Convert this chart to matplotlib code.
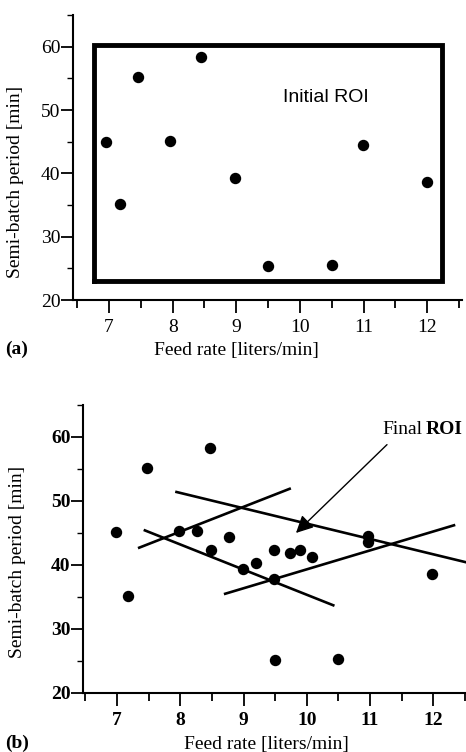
import matplotlib
matplotlib.use("Agg")
import matplotlib.pyplot as plt
from matplotlib.ticker import MultipleLocator

plt.rcParams["font.family"] = ["Liberation Serif", "DejaVu Serif"]

# ---------- (a) initial experiments ----------
feed_a = [6.95, 7.18, 7.46, 7.96, 8.45, 8.98, 9.50, 10.50, 10.99, 12.0]
period_a = [45.0, 35.1, 55.2, 45.1, 58.3, 39.3, 25.4, 25.5, 44.5, 38.7]

# initial region of interest (feed lo, feed hi, period lo, period hi)
roi_feed = [6.76, 12.23]
roi_period = [22.95, 60.3]

# ---------- (b) after further experiments ----------
feed_b = [6.98, 7.18, 7.47, 8.47, 7.98, 8.27, 8.48, 8.77, 8.99, 9.19,
          9.48, 9.48, 9.73, 9.89, 10.09, 9.50, 10.49, 10.97, 10.97, 11.98]
period_b = [45.1, 35.1, 55.2, 58.3, 45.3, 45.3, 42.3, 44.4, 39.3, 40.3,
            42.4, 37.8, 41.9, 42.3, 41.3, 25.2, 25.3, 44.6, 43.6, 38.6]

# constraint lines bounding the final ROI: (x0, y0, x1, y1)
line_x0 = [7.94, 7.35, 7.44, 8.71]
line_y0 = [51.4, 42.7, 45.4, 35.5]
line_x1 = [12.53, 9.73, 10.42, 12.33]
line_y1 = [40.4, 51.9, 33.7, 46.2]

x_ticks = [7, 8, 9, 10, 11, 12]
y_ticks = [20, 30, 40, 50, 60]

fig = plt.figure(figsize=(4.66, 7.52), dpi=100)
ax1 = fig.add_axes([0.1567, 0.601, 0.835, 0.379])
ax2 = fig.add_axes([0.178, 0.0785, 0.822, 0.383])


def style_axes(ax, xlim, bold):
    ax.set_xlim(*xlim)
    ax.set_ylim(20, 65)
    for s in ["top", "right"]:
        ax.spines[s].set_visible(False)
    for s in ["left", "bottom"]:
        ax.spines[s].set_linewidth(1.5)
    ax.set_xticks(x_ticks)
    ax.set_yticks(y_ticks)
    ax.xaxis.set_minor_locator(MultipleLocator(0.5))
    ax.yaxis.set_minor_locator(MultipleLocator(5))
    w = "bold" if bold else "normal"
    ax.tick_params(axis="x", which="major", direction="out", length=9, width=1.3,
                   labelsize=14, pad=5)
    ax.tick_params(axis="x", which="minor", direction="out", length=6, width=1.3)
    ax.tick_params(axis="y", which="major", direction="out", length=9, width=1.3,
                   labelsize=14, pad=0)
    ax.tick_params(axis="y", which="minor", direction="out", length=4, width=1.0)
    for lab in ax.get_xticklabels() + ax.get_yticklabels():
        lab.set_fontweight(w)
    ax.set_xlabel("Feed rate [liters/min]", fontsize=14)
    ax.set_ylabel("Semi-batch period [min]", fontsize=14)


# ---- panel (a) ----
style_axes(ax1, (6.434, 12.55), False)
ax1.xaxis.set_label_coords(0.42, -0.148)
ax1.yaxis.set_label_coords(-0.126, 0.416)
ax1.plot(feed_a, period_a, "o", color="black", markersize=7.2)
ax1.plot([roi_feed[0], roi_feed[1], roi_feed[1], roi_feed[0], roi_feed[0]],
         [roi_period[0], roi_period[0], roi_period[1], roi_period[1], roi_period[0]],
         color="black", lw=3.5, solid_joinstyle="miter")
ax1.text(9.74, 52.0, "Initial ROI", family=["Liberation Sans", "DejaVu Sans"],
         fontsize=14, va="center", ha="left")
fig.text(0.01, 0.535, "(a)", fontsize=14, fontweight="bold", va="center")

# ---- panel (b) ----
style_axes(ax2, (6.46, 12.52), True)
ax2.xaxis.set_label_coords(0.48, -0.148)
ax2.yaxis.set_label_coords(-0.148, 0.456)
ax2.plot(feed_b, period_b, "o", color="black", markersize=7.2)
for x0, y0, x1, y1 in zip(line_x0, line_y0, line_x1, line_y1):
    ax2.plot([x0, x1], [y0, y1], color="black", lw=1.9, clip_on=False)

ax2.annotate("", xy=(9.83, 45.0), xytext=(11.27, 58.8),
             arrowprops=dict(arrowstyle="-|>", color="black", lw=1.0,
                             mutation_scale=26, shrinkA=0, shrinkB=0))
ax2.text(11.19, 61.2, "Final", fontsize=14, va="center", ha="left")
ax2.text(11.88, 61.2, "ROI", fontsize=14, fontweight="bold", va="center",
         ha="left", clip_on=False)
fig.text(0.01, 0.012, "(b)", fontsize=14, fontweight="bold", va="center")

fig.savefig("out.png", dpi=100)
